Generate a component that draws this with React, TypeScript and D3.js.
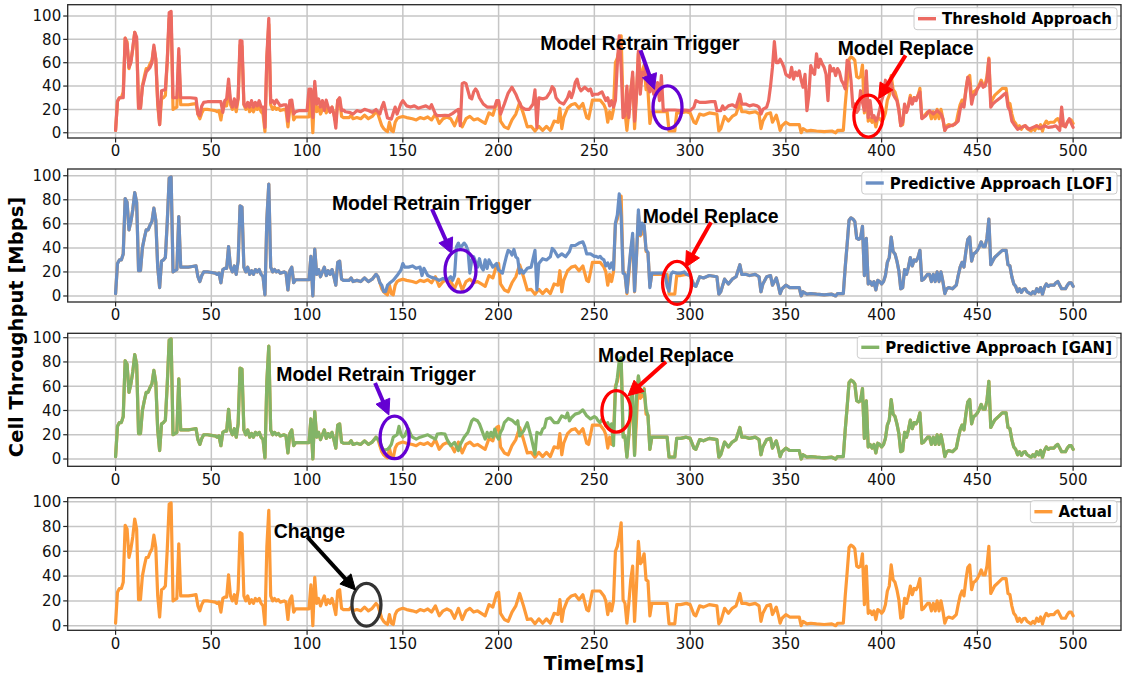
import React from 'react';
import * as d3 from 'd3';

type Pt = [number, number];

// ---------------- DATA ----------------
const xTicks = [0, 50, 100, 150, 200, 250, 300, 350, 400, 450, 500];
const yTicks = [0, 20, 40, 60, 80, 100];
const seriesLabels = ['Threshold Approach', 'Predictive Approach [LOF]', 'Predictive Approach [GAN]', 'Actual'];

const actual: Pt[] = [
  [0,2],[1,27],[2,30],[3,30],[4,35],[5,81],[6,78],[7,55],[8,62],[9,72],[10,86],[11,78],[12,21],[13,21],[14,40],[15,48],[16,55],[17,55],[18,59],[19,62],[20,73],[21,63],[22,24],[23,7],[24,29],[25,30],[26,32],[27,62],[28,98],[29,99],[30,20],[31,21],[32,22],[33,66],[34,24],[36,24],[38,24],[40,24.5],[42,25],[43,16],[44,12],[45,17],[46,20],[48,20],[50,19.5],[52,19],[53,18],[54,19],[55,11],[56,22],[57,23],[58,23],[59,41],[60,24],[61,20],[62,25],[63,18],[64,29],[65,75],[66,74],[67,24],[68,20],[69,24],[70,18],[71,21],[72,18],[73,22],[74,20],[75,22],[76,18],[77,16],[78,1],[79,64],[80,93],[81,24],[82,20],[83,22],[84,20],[85,21],[86,19],[88,20],[89,19],[90,5],[91,21],[92,24],[93,11],[94,13.5],[96,13.5],[98,13.5],[101,13.5],[102,33],[103,0],[104,39],[105,18],[106,22],[107,16],[108,20],[109,24],[110,17],[111,21],[112,18],[113,22],[114,16],[115,9],[116,28],[117,29],[118,14],[119,13],[121,13],[122,13],[123,15],[124,12],[126,13],[128,12],[130,15],[132,12],[134,14],[136,18],[137,16],[138,11],[139,6],[140,3.5],[141,2],[142,1],[143,9],[144,2],[145,1],[146,9],[147,12],[148,13],[150,14],[152,13],[155,12],[157,11],[159,13],[161,12],[163,13.5],[165,11],[167,16],[169,8],[171,12],[173,13.5],[175,12],[177,6],[179,14],[181,5],[183,12],[185,14],[187,11],[189,12],[191,10],[193,8],[195,17],[197,15],[199,26],[200,27],[201,10],[203,5],[205,3.5],[207,11],[209,16],[211,26],[213,16],[215,5],[217,5.5],[219,1.5],[221,5.5],[223,2],[225,5.5],[227,2],[229,10],[231,9],[232,21],[233,3.5],[234,13],[236,21],[238,24],[240,25],[242,21],[244,25],[246,13],[247,12],[249,28],[251,28],[253,28],[255,24],[256,20],[257,9],[258,18],[259,12],[260,20],[261,60],[262,64],[263,72],[264,83],[265,21],[266,18],[267,2],[268,18],[269,37],[270,48],[271,3.5],[272,32],[273,68],[274,50],[275,52],[276,58],[277,37],[278,36],[279,8],[280,18],[282,18],[285,18],[288,18],[289,1.5],[292,1.5],[293,17],[295,17],[298,18],[300,17],[302,9],[303,8],[305,16],[307,15],[310,17],[314,16],[315,1.5],[316,3.5],[318,14],[320,10],[322,14],[324,16],[326,26],[327,18],[329,18],[331,17],[334,18],[336,16],[337,3.5],[338,10],[340,16],[342,17],[343,9],[345,15],[346,9],[347,2],[348,6],[350,9],[352,7],[355,7],[357,7],[358,0],[359,3.5],[361,1.5],[363,2],[366,1.5],[370,1],[374,1.5],[376,0],[377,2],[380,2],[381,24],[382,43],[383,63],[384,65],[385,64],[386,62],[387,48],[388,47],[389,48],[390,58],[391,17],[392,48],[393,10],[394,12],[395,9],[396,12],[397,5],[398,13],[399,12],[400,10],[401,12],[402,17],[403,28],[404,32],[405,49],[406,37],[407,35],[408,29],[409,21],[410,6],[411,7],[412,22],[413,18],[414,24],[415,32],[416,25],[417,30],[418,29],[419,32],[420,38],[421,13],[422,14],[424,18],[425,18],[426,12],[427,18],[428,12],[429,20],[430,12],[431,20],[432,12],[433,2],[434,6],[435,7],[437,6],[439,9],[440,17],[441,24],[442,28],[443,24],[444,37],[445,47],[446,49],[447,29],[448,35],[449,36],[450,38],[451,41],[452,45],[453,41],[454,41],[455,48],[456,64],[457,26],[458,29],[459,32],[461,35],[463,38],[465,38],[466,26],[467,25],[468,16],[469,10],[470,8],[471,3.5],[472,6],[473,3],[474,5.5],[475,6],[476,3.5],[478,1.5],[479,3.5],[480,2],[481,6],[482,3.5],[483,7],[484,1.5],[485,7],[486,10],[487,8],[488,9],[490,9],[491,11],[492,12],[493,9],[494,6],[496,6],[497,9],[498,11],[499,11],[500,8]
];

const threshold: Pt[] = [
  [0,2],[1,27],[2,30],[4,30],[5,81],[6,76],[7,56],[8,60],[10,86],[11,82],[12,21],[13,21],[14,39],[16,52],[18,56],[19,60],[20,75],[21,63],[22,27],[23,7],[24,36],[26,37],[27,62],[28,103],[29,104],[30,30],[32,30],[33,72],[34,30],[36,30],[39,30],[42,29.5],[43,16],[44,14.6],[45,23],[46,26],[48,26.6],[51,26.6],[55,26.6],[56,17.5],[57,27.5],[58,29],[59,46],[60,27.5],[61,22],[62,29],[63,22],[64,30],[65,79],[66,78.5],[67,24.6],[68,22],[69,26],[70,22],[71,27.5],[72,22],[73,26],[74,23],[75,27.5],[76,22],[77,22],[78,4.6],[79,65],[80,98],[81,26],[82,27.5],[83,24.6],[84,28],[86,23],[88,24],[89,24],[90,10],[91,27.5],[92,28],[93,16],[94,18],[96,19],[98,19],[100,19],[101,37.5],[102,37.5],[103,13],[104,44],[105,24.6],[106,29],[107,22],[108,27.5],[109,19],[110,28],[111,22],[112,17.5],[113,22],[114,16],[115,4],[116,27.5],[117,30],[118,19],[119,19.5],[120,18],[122,17.5],[124,16],[126,19],[128,18],[130,20],[132,19],[134,17.5],[136,20],[138,16],[139,22],[140,26],[142,12.6],[144,11.7],[146,22],[147,16],[149,25],[150,27.5],[152,23],[154,22],[156,23],[158,21],[160,22],[162,23],[164,21],[165,24],[167,16],[168,14.6],[170,14.6],[172,15],[174,14.6],[176,16.6],[178,19],[179,20],[180,6],[181,42],[182,43],[183,42],[185,30],[186,29],[187,35],[188,37.5],[189,35],[190,30],[192,24.6],[194,22],[196,22],[198,22],[199,27.5],[200,27.5],[201,16],[203,24.6],[205,34],[207,39],[209,33],[210,29],[212,22],[214,20],[216,20],[218,24.6],[219,36.7],[220,4.6],[221,30],[223,29],[225,30],[227,35],[228,39.5],[229,37.5],[230,30],[232,26],[234,24.6],[236,30],[237,35],[238,30],[239,35],[240,43],[241,46],[242,39],[243,36],[245,39],[247,36],[248,37.5],[249,32],[250,33],[252,33],[254,35],[256,27.5],[257,30],[258,23],[259,27.5],[260,22],[261,27.5],[262,59],[263,83],[264,56],[265,13],[266,14.6],[267,40],[268,13],[269,33],[270,52],[271,10],[272,33],[273,70],[274,33],[275,52],[276,50],[277,56],[278,39],[279,35],[280,45],[281,33],[282,36],[283,43],[284,27.5],[285,49],[286,19],[288,19.5],[290,19.5],[292,19.5],[295,19],[297,19.5],[300,19],[302,22],[303,27.5],[305,26],[308,26],[311,26.6],[313,26.6],[314,19],[316,19],[317,23],[318,20],[320,23],[322,24],[324,22],[325,27.5],[326,33],[327,24.6],[329,24.6],[331,23],[333,24],[335,23],[336,22],[337,16],[338,20],[340,22],[341,27.5],[342,40],[343,56],[344,78],[345,60],[346,60],[347,63],[348,60],[349,56],[350,50],[352,47.5],[353,56],[354,46],[355,52],[356,49],[357,53],[358,45],[359,39],[360,50],[361,19],[362,32],[363,57.6],[364,52],[365,50],[366,67.6],[367,56],[368,63],[369,59],[370,56],[371,50],[372,27.5],[373,57.6],[374,53],[375,55],[376,49],[377,55],[378,52],[379,45],[380,42],[381,37.5],[382,62],[383,60],[384,45],[385,22],[386,24.6],[387,17.5],[388,20],[389,36],[390,26],[391,19],[392,53],[393,13],[394,27.5],[395,13],[396,14.6],[397,10],[398,13],[399,20],[400,27.5],[401,33],[402,45],[403,36],[404,42],[405,43],[406,33],[407,30],[408,27.5],[409,19],[410,6],[411,9],[412,24.6],[413,17.5],[414,23],[415,30],[416,24.6],[417,30],[418,27.5],[419,32],[420,35],[421,12],[423,14.6],[425,19],[427,16],[429,19],[431,16],[432,12],[433,2],[434,4.6],[436,6],[438,7],[440,10],[441,20],[442,24.6],[443,22],[444,36],[445,47.5],[446,42],[447,24.6],[448,32],[449,33],[450,37.5],[451,40],[452,43],[453,39],[454,40],[455,45],[456,63],[457,22],[458,24.6],[460,27.5],[462,30],[464,33],[465,34],[466,22],[467,19],[468,10],[469,7.5],[471,3],[473,4.6],[475,6],[477,3],[479,4.6],[481,6],[483,4],[485,6],[487,4.6],[489,5],[491,6],[493,2],[494,22],[495,6],[496,5],[497,9],[498,12],[499,8],[500,4.6]
];

// LOF prediction where it departs from the actual trace (t = 139 .. 298)
const lofDeviation: Pt[] = [
  [139,9],[140,3.6],[141,3.6],[142,9],[143,10.5],[145,13],[147,17],[149,21.6],[150,27],[151,24],[153,24],[155,25],[157,23],[159,24],[160,17],[161,23],[163,17],[165,15.5],[167,14.7],[169,13],[171,14.7],[173,13],[175,16],[176,13],[177,17],[178,41],[179,44],[180,39.5],[181,42],[182,44],[183,42],[184,38],[185,19],[186,30],[187,32.6],[188,28.5],[189,24],[190,31],[191,24],[192,21.6],[193,30],[194,23],[195,30],[197,24],[199,27],[200,21.6],[202,19],[203,26],[204,32.6],[205,38],[206,37],[207,34],[208,38.7],[209,32.6],[210,31],[211,19],[212,21.6],[213,19],[215,23],[217,24],[219,38],[220,5],[221,27],[223,31],[225,30],[227,32.6],[228,39.5],[229,38],[231,32.6],[233,35],[235,32.6],[237,37],[238,42],[240,42],[242,44],[244,45],[245,41],[246,35],[248,35],[250,33],[251,33],[252,32],[253,33],[254,31],[255,30],[256,25],[257,27.5],[258,23],[259,27.5],[260,22],[261,60.6],[262,67.5],[263,85],[264,66],[265,19],[266,18],[267,3],[268,22],[269,38.6],[270,52],[271,4],[272,33],[273,71.6],[274,51],[275,60.6],[276,59],[277,38.6],[278,36],[279,7],[280,19],[282,19],[284,19],[286,19],[287,18],[288,8],[289,4],[290,18],[291,20],[293,19],[295,19],[297,20],[298,18]
];

// GAN prediction where it departs from the actual trace (t = 138 .. 279)
const ganDeviation: Pt[] = [
  [138,14],[139,10],[140,7],[142,8],[143,9.6],[144,12],[145,18],[146,19],[147,20],[148,27],[149,20.5],[150,18],[151,19],[152,23],[153,24.7],[154,20.5],[155,18],[157,16.4],[159,18],[161,19],[163,20],[165,18],[167,16.4],[168,20.5],[170,21],[172,20.5],[173,16.4],[175,11],[177,13.7],[179,7],[180,12],[182,18],[184,22],[186,31.5],[187,33],[189,31.5],[190,29],[192,20.5],[193,16.4],[194,22],[195,18],[196,22],[197,18],[198,24.7],[199,19],[200,16.4],[201,22],[202,24.7],[203,30],[205,33.4],[207,32],[209,29],[210,31.5],[211,19],[213,23],[215,30],[217,18],[218,11],[219,4],[220,22],[222,20.5],[223,24.7],[224,26],[225,33],[227,34],[229,30],[231,30],[233,35.6],[235,34],[236,38],[237,31.5],[238,34],[240,37],[242,38],[244,40.5],[246,35.6],[248,33],[250,35],[251,34],[252,31.5],[253,30],[254,33],[255,31],[256,27.5],[257,30],[258,24.7],[259,29],[260,11],[261,57.5],[262,67],[263,81],[264,83.5],[265,18],[266,19],[267,1.4],[268,20.5],[269,50.7],[270,53],[271,3],[272,50.7],[273,68.5],[274,56],[275,55],[276,57.5],[277,41],[278,35.6],[279,8]
];

const lof: Pt[] = [
  ...actual.filter(d => d[0] < 139),
  ...lofDeviation,
  ...actual.filter(d => d[0] >= 300),
];
const gan: Pt[] = [
  ...actual.filter(d => d[0] < 138),
  ...ganDeviation,
  ...actual.filter(d => d[0] >= 280),
];

// ---------------- LAYOUT / STYLE ----------------
const W = 1123;
const H = 675;
const LEFT = 67.7;
const RIGHT = 1121;
const ORANGE = '#fd9a38';
const RED = '#ec6a62';
const BLUE = '#6a8fc4';
const GREEN = '#83b467';
const PURPLE = '#6400d2';
const TICK_FONT = "'DejaVu Sans', sans-serif";
const ANN_FONT = "'Liberation Sans', Arial, sans-serif";
const LINE_W = 3.2;

type Ann = {
  text: string; tx: number; ty: number;
  ax: number; ay: number; hx: number; hy: number;
  ex: number; ey: number; rx: number; ry: number;
  arrow: string; ring: string;
};

const panels = [
  {
    top: 4.7, bottom: 138, yDomain: [-4.5, 109.7], series: threshold, color: RED, label: seriesLabels[0],
    anns: [
      { text: 'Model Retrain Trigger', tx: 273.8, ty: 76.5, ax: 274.1, ay: 70.7, hx: 281.4, hy: 37.2, ex: 288.2, ey: 21.8, rx: 14.5, ry: 21.5, arrow: PURPLE, ring: PURPLE },
      { text: 'Model Replace', tx: 412.5, ty: 72.6, ax: 412.5, ay: 66.3, hx: 398.4, hy: 29.2, ex: 393.1, ey: 14.3, rx: 14.5, ry: 21, arrow: '#ff0000', ring: '#ff0000' },
    ] as Ann[],
  },
  {
    top: 169, bottom: 302, yDomain: [-5, 105.6], series: lof, color: BLUE, label: seriesLabels[1],
    anns: [
      { text: 'Model Retrain Trigger', tx: 165.0, ty: 77.7, ax: 165.2, ay: 72.3, hx: 175.6, hy: 35.2, ex: 180.1, ey: 20.9, rx: 15.5, ry: 21.3, arrow: PURPLE, ring: PURPLE },
      { text: 'Model Replace', tx: 310.7, ty: 66.5, ax: 310.9, ay: 61.3, hx: 297.6, hy: 23.9, ex: 293.2, ey: 10.9, rx: 14.5, ry: 21.5, arrow: '#ff0000', ring: '#ff0000' },
    ] as Ann[],
  },
  {
    top: 333.3, bottom: 466.3, yDomain: [-6, 103.6], series: gan, color: GREEN, label: seriesLabels[2],
    anns: [
      { text: 'Model Retrain Trigger', tx: 136.0, ty: 69.8, ax: 135.5, ay: 62.6, hx: 142.7, hy: 36.3, ex: 145.7, ey: 17.8, rx: 14.5, ry: 21.3, arrow: PURPLE, ring: PURPLE },
      { text: 'Model Replace', tx: 287.4, ty: 85.8, ax: 287.4, ay: 80.1, hx: 267.5, hy: 52.1, ex: 261.5, ey: 39.3, rx: 14.5, ry: 20.8, arrow: '#ff0000', ring: '#ff0000' },
    ] as Ann[],
  },
  {
    top: 497.7, bottom: 630.3, yDomain: [-3.7, 103.2], series: null as Pt[] | null, color: ORANGE, label: seriesLabels[3],
    anns: [
      { text: 'Change', tx: 101.2, ty: 76, ax: 100.1, ay: 71.5, hx: 125.3, hy: 28.8, ex: 131.0, ey: 16.9, rx: 14.5, ry: 21.3, arrow: '#000000', ring: '#333333' },
    ] as Ann[],
  },
];

let measureCtx: CanvasRenderingContext2D | null = null;
function textWidth(s: string, font: string): number {
  if (!measureCtx) {
    const c = document.createElement('canvas');
    measureCtx = c.getContext('2d');
  }
  if (!measureCtx) return s.length * 9;
  measureCtx.font = font;
  return measureCtx.measureText(s).width;
}

function Arrow({ x1, y1, x2, y2, color }: { x1: number; y1: number; x2: number; y2: number; color: string }) {
  const dx = x2 - x1, dy = y2 - y1;
  const len = Math.hypot(dx, dy);
  const ux = dx / len, uy = dy / len;
  const hl = 15, hw = 7.5;
  const bx = x2 - ux * hl, by = y2 - uy * hl;
  const px = -uy, py = ux;
  const pts = `${x2},${y2} ${bx + px * hw},${by + py * hw} ${bx - px * hw},${by - py * hw}`;
  return (
    <g>
      <line x1={x1} y1={y1} x2={bx + ux * 2} y2={by + uy * 2} stroke={color} strokeWidth={4} />
      <polygon points={pts} fill={color} stroke={color} strokeWidth={1} strokeLinejoin="miter" />
    </g>
  );
}

function Panel({ p }: { p: typeof panels[number] }) {
  const x = d3.scaleLinear().domain([-25, 525]).range([LEFT, RIGHT]);
  const y = d3.scaleLinear().domain(p.yDomain).range([p.bottom, p.top]);
  const line = d3.line<Pt>().x(d => x(d[0])).y(d => y(d[1]));

  const legFont = `bold 15px 'DejaVu Sans'`;
  const tw = textWidth(p.label, legFont);
  const frameRight = RIGHT - 4;
  const textEnd = frameRight - 5;
  const textStart = textEnd - tw;
  const sampleEnd = textStart - 6;
  const sampleStart = sampleEnd - 18;
  const frameLeft = sampleStart - 4;
  const frameTop = p.top + 3;
  const frameH = 22;

  return (
    <g>
      {/* grid */}
      {xTicks.map(t => (
        <line key={'gx' + t} x1={x(t)} x2={x(t)} y1={p.top} y2={p.bottom} stroke="#c6c6c6" strokeWidth={1.5} />
      ))}
      {yTicks.map(t => (
        <line key={'gy' + t} x1={LEFT} x2={RIGHT} y1={y(t)} y2={y(t)} stroke="#c6c6c6" strokeWidth={1.5} />
      ))}
      {/* series */}
      <path d={line(actual) || ''} fill="none" stroke={ORANGE} strokeWidth={LINE_W} strokeLinejoin="round" strokeLinecap="round" />
      {p.series && (
        <path d={line(p.series) || ''} fill="none" stroke={p.color} strokeWidth={LINE_W} strokeLinejoin="round" strokeLinecap="round" />
      )}
      {/* frame */}
      <rect x={LEFT} y={p.top} width={RIGHT - LEFT} height={p.bottom - p.top} fill="none" stroke="#262626" strokeWidth={1.3} />
      {/* ticks */}
      {xTicks.map(t => (
        <g key={'tx' + t}>
          <line x1={x(t)} x2={x(t)} y1={p.bottom} y2={p.bottom + 4.5} stroke="#262626" strokeWidth={1.2} />
          <text x={x(t)} y={p.bottom + 18.4} textAnchor="middle" fontFamily={TICK_FONT} fontSize={15} fill="#111">{t}</text>
        </g>
      ))}
      {yTicks.map(t => (
        <g key={'ty' + t}>
          <line x1={LEFT - 4.5} x2={LEFT} y1={y(t)} y2={y(t)} stroke="#262626" strokeWidth={1.2} />
          <text x={LEFT - 6.5} y={y(t) + 5.4} textAnchor="end" fontFamily={TICK_FONT} fontSize={15} fill="#111">{t}</text>
        </g>
      ))}
      {/* legend */}
      <rect x={frameLeft} y={frameTop} width={frameRight - frameLeft} height={frameH} rx={3} fill="#ffffff" fillOpacity={0.85} stroke="#cccccc" strokeWidth={1} />
      <line x1={sampleStart} x2={sampleEnd} y1={frameTop + 11} y2={frameTop + 11} stroke={p.color} strokeWidth={3.4} />
      <text x={textStart} y={frameTop + 16.5} fontFamily={TICK_FONT} fontWeight="bold" fontSize={15} fill="#000">{p.label}</text>
      {/* annotations */}
      {p.anns.map((a, i) => (
        <g key={'a' + i}>
          <ellipse cx={x(a.ex)} cy={y(a.ey)} rx={a.rx} ry={a.ry} fill="none" stroke={a.ring} strokeWidth={3.3} />
          <Arrow x1={x(a.ax)} y1={y(a.ay)} x2={x(a.hx)} y2={y(a.hy)} color={a.arrow} />
          <text x={x(a.tx)} y={y(a.ty) + 7} textAnchor="middle" fontFamily={ANN_FONT} fontWeight="bold" fontSize={19.4} fill="#000">{a.text}</text>
        </g>
      ))}
    </g>
  );
}

export default function App() {
  return (
    <svg width={W} height={H} viewBox={`0 0 ${W} ${H}`} style={{ position: 'absolute', left: 0, top: 0, background: '#fff' }}>
      <rect x={0} y={0} width={W} height={H} fill="#fff" />
      {panels.map((p, i) => <Panel key={i} p={p} />)}
      <text transform="translate(23,327) rotate(-90)" textAnchor="middle" fontFamily={TICK_FONT} fontWeight="bold" fontSize={19.5} fill="#000">Cell Throughput [Mbps]</text>
      <text x={594} y={670} textAnchor="middle" fontFamily={TICK_FONT} fontWeight="bold" fontSize={19} fill="#000">Time[ms]</text>
    </svg>
  );
}
